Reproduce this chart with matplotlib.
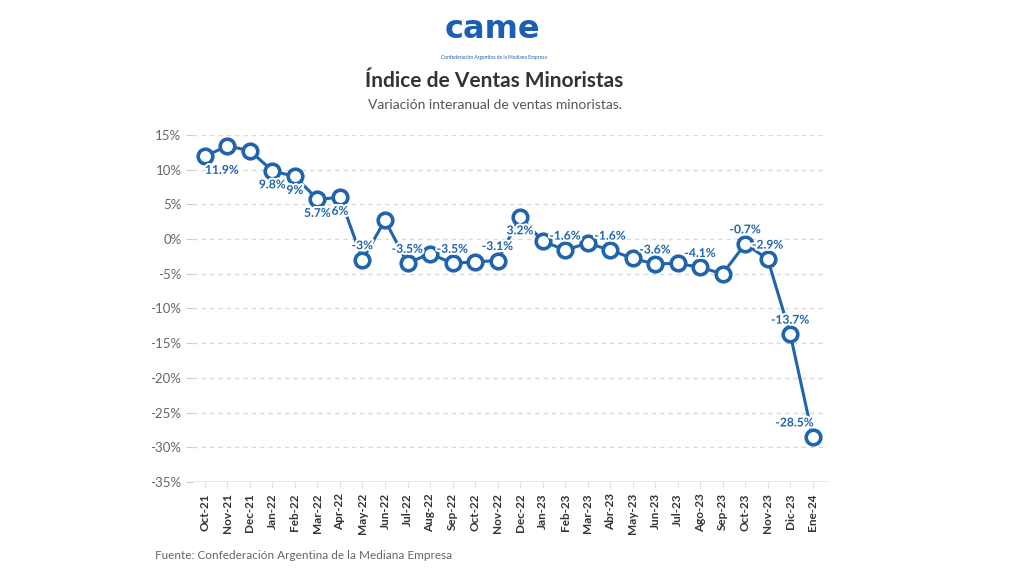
import matplotlib.pyplot as plt
import matplotlib.patheffects as pe

plt.rcParams['font.family'] = ['Lato', 'DejaVu Sans']

meses = ['Oct-21', 'Nov-21', 'Dec-21', 'Jan-22', 'Feb-22', 'Mar-22', 'Apr-22',
         'May-22', 'Jun-22', 'Jul-22', 'Aug-22', 'Sep-22', 'Oct-22', 'Nov-22',
         'Dec-22', 'Jan-23', 'Feb-23', 'Mar-23', 'Abr-23', 'May-23', 'Jun-23',
         'Jul-23', 'Ago-23', 'Sep-23', 'Oct-23', 'Nov-23', 'Dic-23', 'Ene-24']
variacion = [11.9, 13.4, 12.7, 9.8, 9.0, 5.7, 6.0,
             -3.0, 2.7, -3.5, -2.1, -3.5, -3.3, -3.1,
             3.2, -0.3, -1.6, -0.6, -1.6, -2.8, -3.6,
             -3.5, -4.1, -5.0, -0.7, -2.9, -13.7, -28.5]
# meses con etiqueta de valor
etiquetados = ['Oct-21', 'Jan-22', 'Feb-22', 'Mar-22', 'Apr-22', 'May-22', 'Jul-22',
               'Sep-22', 'Nov-22', 'Dec-22', 'Feb-23', 'Abr-23', 'Jun-23', 'Ago-23',
               'Oct-23', 'Nov-23', 'Dic-23', 'Ene-24']
yticks = [15, 10, 5, 0, -5, -10, -15, -20, -25, -30, -35]

azul = '#1f64ad'

fig = plt.figure(figsize=(10.24, 5.76), dpi=100)
fig.patch.set_facecolor('white')
ax = fig.add_axes([0.188, 0.163, 0.62, 0.603])

x = list(range(len(meses)))
ax.plot(x, variacion, color=azul, lw=2.2, marker='o', ms=10.5,
        mfc='white', mec=azul, mew=2.6, clip_on=False, zorder=3)

halo = [pe.withStroke(linewidth=3, foreground='white')]
for i, (m, v) in enumerate(zip(meses, variacion)):
    if m not in etiquetados:
        continue
    dx = 0
    if i == 0:
        dx = 17
    elif i == len(meses) - 1:
        dx = -18
    dy = -14 if v > 0 else 14
    txt = f'{v:g}%'
    ax.annotate(txt, (i, v), xytext=(dx, dy), textcoords='offset pixels',
                ha='center', va='center', fontsize=8.7, fontweight='bold',
                color=azul, zorder=4, path_effects=halo)

ax.set_xlim(-0.55, 27.65)
ax.set_ylim(-35, 15)
ax.set_yticks(yticks)
ax.set_yticklabels([f'{t}%' for t in yticks], color='#666666', fontsize=9.5)
ax.set_xticks(x)
ax.set_xticklabels(meses, rotation=90, fontsize=8.5, fontweight='bold', color='#333333')

for t in yticks[:-1]:
    ax.axhline(t, color='#d9d9d9', lw=1, ls=(0, (3, 3)), zorder=1)
ax.axhline(-35, color='#e0e0e0', lw=1.2, zorder=1)

for s in ax.spines.values():
    s.set_visible(False)
ax.tick_params(axis='y', length=5, color='#cccccc', pad=3)
ax.tick_params(axis='x', length=4, color='#e0e0e0', pad=4)

# encabezado
fig.text(0.481, 0.948, 'came', ha='center', va='center', fontsize=23,
         fontweight='bold', color='#1a5fb4', family='DejaVu Sans')
fig.text(0.482, 0.900, 'Confederación Argentina de la Mediana Empresa', ha='center',
         va='center', fontsize=3.5, color='#1a5fb4')
fig.text(0.483, 0.859, 'Índice de Ventas Minoristas', ha='center', va='center',
         fontsize=15, fontweight='bold', color='#333333')
fig.text(0.483, 0.818, 'Variación interanual de ventas minoristas.', ha='center',
         va='center', fontsize=10, color='#555555')
fig.text(0.151, 0.036, 'Fuente: Confederación Argentina de la Mediana Empresa',
         ha='left', va='center', fontsize=8.5, color='#666666')

fig.savefig('out.png', dpi=100, facecolor='white')
